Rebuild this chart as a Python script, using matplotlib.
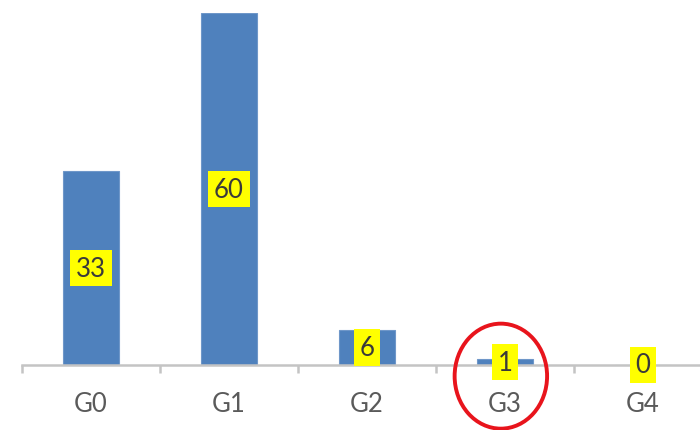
import matplotlib.pyplot as plt
from matplotlib.patches import Ellipse

groups = ['G0', 'G1', 'G2', 'G3', 'G4']
counts = [33, 60, 6, 1, 0]

plt.rcParams['font.family'] = ['Lato', 'DejaVu Sans']

fig = plt.figure(figsize=(7, 4.31), dpi=100)
ax = fig.add_axes([22 / 700, 65 / 431, 690 / 700, 352 / 431])

x = list(range(len(groups)))
ax.bar(x, counts, width=0.4, color='#4f81bd', edgecolor='#6f97c9', linewidth=0.8, zorder=2)

# value labels centred in each bar on a yellow box
for xi, v in zip(x, counts):
    ax.text(xi, v / 2, str(v), ha='center', va='center', fontsize=18.5,
            color='#3a3a3a', zorder=4, clip_on=False,
            bbox=dict(boxstyle='square,pad=0.22', fc='#ffff00', ec='none'))

ax.set_xlim(-0.5, 4.5)
ax.set_ylim(0, 60)

for side in ['left', 'right', 'top']:
    ax.spines[side].set_visible(False)
ax.spines['bottom'].set_color('#c4c4c4')
ax.spines['bottom'].set_linewidth(1.8)
ax.set_yticks([])

ax.set_xticks(x)
ax.set_xticklabels(groups, fontsize=18.5, color='#5a5a5a')
ax.tick_params(axis='x', which='major', length=0, pad=19)
ax.set_xticks([i - 0.5 for i in range(len(groups) + 1)], minor=True)
ax.tick_params(axis='x', which='minor', length=6, width=1.8, color='#c4c4c4', direction='out')

# red ring around G3
ring = Ellipse((2.97, -1.9), width=0.67, height=17.9, fill=False,
               edgecolor='#e8141c', linewidth=2.8, clip_on=False, zorder=5)
ax.add_patch(ring)

fig.savefig('out.png', dpi=100)
